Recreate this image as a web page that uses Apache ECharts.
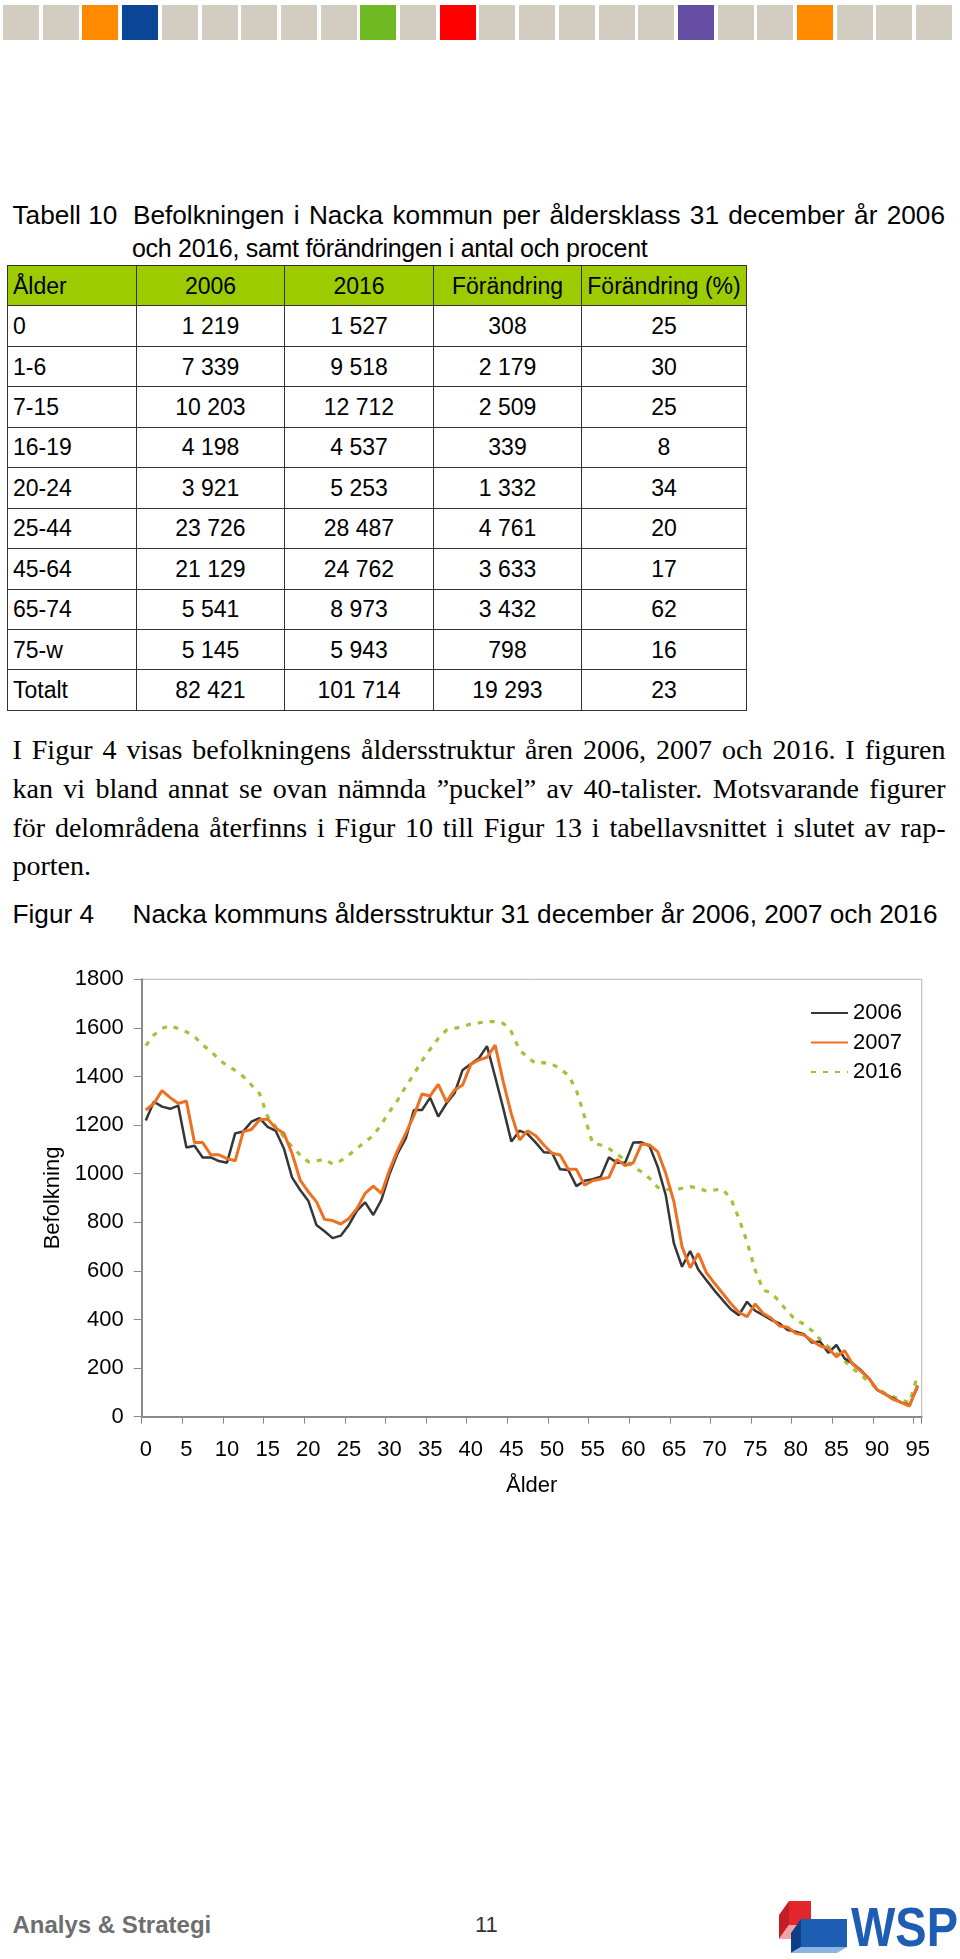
<!DOCTYPE html>
<html>
<head>
<meta charset="utf-8">
<script src="https://cdn.jsdelivr.net/npm/echarts@6/dist/echarts.min.js"></script>
<style>
  html, body { margin:0; padding:0; background:#fff; }
  body { width:960px; height:1959px; position:relative; overflow:hidden; font-family:"Liberation Sans", Arial, sans-serif; color:#000; }
  .abs { position:absolute; white-space:nowrap; }
  .sq { position:absolute; top:5px; width:36px; height:35px; }
  .cap { font-size:26.2px; line-height:30px; }
  .just { text-align:justify; text-align-last:justify; }
  table.pop { position:absolute; left:7px; top:265px; border-collapse:collapse; table-layout:fixed; font-size:23px; }
  table.pop td { border:1.5px solid #333; height:40.45px; padding:0; text-align:center; box-sizing:border-box; line-height:38px; }
  table.pop td:first-child { text-align:left; padding-left:5px; }
  table.pop tr.hd td { background:#9bcb00; }
  .par { font-family:"Liberation Serif", "Times New Roman", serif; font-size:28px; line-height:38px; width:933px; left:12.5px; text-align:justify; text-align-last:justify; }
  .par.last { text-align:left; text-align-last:left; }
  #chart { position:absolute; left:0; top:940px; width:960px; height:580px; }
</style>
</head>
<body>
<div id="bar"></div>

<div class="abs cap" style="left:12.5px; top:200px;">Tabell 10</div>
<div class="abs cap just" style="left:133px; width:812px; top:200px;">Befolkningen i Nacka kommun per åldersklass 31 december år 2006</div>
<div class="abs cap" style="left:132px; top:232.5px; font-size:25px; letter-spacing:-0.3px;">och 2016, samt förändringen i antal och procent</div>

<table class="pop" id="tbl"></table>

<div class="abs par" style="top:731px;">I Figur 4 visas befolkningens åldersstruktur åren 2006, 2007 och 2016. I figuren</div>
<div class="abs par" style="top:770px;">kan vi bland annat se ovan nämnda ”puckel” av 40-talister. Motsvarande figurer</div>
<div class="abs par" style="top:808.5px;">för delområdena återfinns i Figur 10 till Figur 13 i tabellavsnittet i slutet av rap-</div>
<div class="abs par last" style="top:847px;">porten.</div>

<div class="abs cap" style="left:12.5px; top:899px;">Figur 4</div>
<div class="abs cap" style="left:132.5px; top:899px;">Nacka kommuns åldersstruktur 31 december år 2006, 2007 och 2016</div>

<div id="chart"></div>

<div class="abs" style="left:12.5px; top:1911px; font-size:24px; line-height:28px; font-weight:bold; color:#6e6e6e;">Analys &amp; Strategi</div>
<div class="abs" style="left:475px; top:1912px; font-size:22px; line-height:26px; color:#333;">11</div>

<svg class="abs" style="left:775px; top:1895px;" width="185" height="60" viewBox="0 0 185 60">
  <polygon points="14,6 36,6 36,30 14,30" fill="#e3262b"/>
  <polygon points="4,20 14,6 14,30 4,44" fill="#c21e24"/>
  <polygon points="4,44 14,30 36,30 26,44" fill="#f3a3a5"/>
  <polygon points="26,24 72,24 72,52 26,52" fill="#1d5db4"/>
  <polygon points="16,38 26,24 26,52 16,58" fill="#0e3f86"/>
  <polygon points="16,58 26,52 72,52 62,58" fill="#8fb3e3"/>
  <text x="76" y="51" font-family="Liberation Sans, Arial" font-weight="bold" font-size="56" fill="#1d5db4" textLength="107" lengthAdjust="spacingAndGlyphs">WSP</text>
</svg>

<script>
// ---- decorative header squares ----
const barColors = ['#d3ccc1','#d3ccc1','#ff8a00','#0a4596','#d3ccc1','#d3ccc1','#d3ccc1','#d3ccc1','#d3ccc1','#6fba22','#d3ccc1','#ff0000',
                   '#d3ccc1','#d3ccc1','#d3ccc1','#d3ccc1','#d3ccc1','#654ea3','#d3ccc1','#d3ccc1','#ff8a00','#d3ccc1','#d3ccc1','#d3ccc1'];
const bar = document.getElementById('bar');
barColors.forEach((c, i) => {
  const d = document.createElement('div');
  d.className = 'sq';
  d.style.left = (3 + i * 39.7) + 'px';
  d.style.background = c;
  bar.appendChild(d);
});

// ---- table data ----
const tableHeader = ['Ålder', '2006', '2016', 'Förändring', 'Förändring (%)'];
const ageClasses  = ['0', '1-6', '7-15', '16-19', '20-24', '25-44', '45-64', '65-74', '75-w', 'Totalt'];
const tab2006     = ['1 219', '7 339', '10 203', '4 198', '3 921', '23 726', '21 129', '5 541', '5 145', '82 421'];
const tab2016     = ['1 527', '9 518', '12 712', '4 537', '5 253', '28 487', '24 762', '8 973', '5 943', '101 714'];
const tabChange   = ['308', '2 179', '2 509', '339', '1 332', '4 761', '3 633', '3 432', '798', '19 293'];
const tabChangePc = ['25', '30', '25', '8', '34', '20', '17', '62', '16', '23'];
const colWidths   = [129, 148, 149, 148, 165];

const tbl = document.getElementById('tbl');
const cg = document.createElement('colgroup');
colWidths.forEach(w => { const c = document.createElement('col'); c.style.width = w + 'px'; cg.appendChild(c); });
tbl.appendChild(cg);
function addRow(cells, cls) {
  const tr = document.createElement('tr');
  if (cls) tr.className = cls;
  cells.forEach(t => { const td = document.createElement('td'); td.textContent = t; tr.appendChild(td); });
  tbl.appendChild(tr);
}
addRow(tableHeader, 'hd');
ageClasses.forEach((a, i) => addRow([a, tab2006[i], tab2016[i], tabChange[i], tabChangePc[i]]));

// ---- chart data ----
const ages = ['0','1','2','3','4','5','6','7','8','9','10','11','12','13','14','15','16','17','18','19',
  '20','21','22','23','24','25','26','27','28','29','30','31','32','33','34','35','36','37','38','39',
  '40','41','42','43','44','45','46','47','48','49','50','51','52','53','54','55','56','57','58','59',
  '60','61','62','63','64','65','66','67','68','69','70','71','72','73','74','75','76','77','78','79',
  '80','81','82','83','84','85','86','87','88','89','90','91','92','93','94','95'];

const pop2006 = [1219, 1296, 1276, 1267, 1280, 1108, 1115, 1067, 1067, 1052,
  1045, 1166, 1174, 1214, 1229, 1193, 1176, 1104, 985, 933,
  889, 789, 763, 735, 745, 789, 848, 882, 830, 892,
  999, 1084, 1145, 1262, 1262, 1313, 1235, 1289, 1331, 1427,
  1451, 1475, 1525, 1399, 1269, 1132, 1177, 1163, 1128, 1088,
  1086, 1018, 1015, 949, 971, 977, 988, 1067, 1045, 1045,
  1128, 1129, 1114, 1029, 912, 713, 617, 682, 606, 562,
  519, 480, 442, 418, 473, 436, 418, 398, 384, 357,
  350, 340, 305, 309, 263, 295, 240, 219, 192, 158,
  110, 93, 75, 58, 48, 123];

const pop2007 = [1262, 1289, 1342, 1313, 1289, 1299, 1128, 1128, 1078, 1078,
  1062, 1053, 1173, 1182, 1221, 1225, 1187, 1166, 1084, 974,
  926, 885, 812, 807, 793, 816, 857, 919, 949, 919,
  1015, 1097, 1166, 1239, 1328, 1320, 1368, 1296, 1344, 1365,
  1450, 1468, 1479, 1529, 1378, 1245, 1139, 1177, 1156, 1118,
  1084, 1077, 1018, 1018, 953, 971, 978, 985, 1059, 1033,
  1045, 1122, 1118, 1091, 1001, 885, 700, 613, 672, 593,
  549, 508, 466, 430, 412, 464, 425, 405, 373, 368,
  343, 336, 313, 291, 281, 247, 272, 216, 188, 158,
  112, 93, 71, 58, 44, 130];

const pop2016 = [1527, 1571, 1598, 1609, 1597, 1584, 1564, 1530, 1505, 1470,
  1445, 1425, 1400, 1365, 1330, 1235, 1193, 1152, 1111, 1077,
  1049, 1053, 1059, 1040, 1053, 1077, 1104, 1132, 1156, 1204,
  1255, 1303, 1358, 1410, 1465, 1512, 1557, 1591, 1598, 1605,
  1616, 1621, 1626, 1626, 1619, 1584, 1509, 1479, 1454, 1457,
  1451, 1431, 1406, 1344, 1235, 1125, 1118, 1104, 1080, 1056,
  1029, 1008, 981, 944, 936, 933, 940, 947, 940, 929,
  933, 936, 898, 816, 720, 604, 521, 510, 473, 432,
  398, 381, 354, 318, 288, 261, 230, 199, 171, 144,
  117, 96, 82, 69, 58, 171];

const yTicks = { min: 0, max: 1800, interval: 200 };
const seriesNames = ['2006', '2007', '2016'];

const chart = echarts.init(document.getElementById('chart'), null, { renderer: 'canvas' });
const FONT = 'Liberation Sans, Arial, sans-serif';
const axisGray = '#8a8a8a';

chart.setOption({
  animation: false,
  textStyle: { fontFamily: FONT },
  grid: { left: 141.7, top: 39.3, width: 780, height: 437.4, show: true, borderColor: '#b4b4b4', borderWidth: 1, backgroundColor: 'transparent' },
  legend: {
    orient: 'vertical', left: 805, top: 57,
    itemWidth: 37, itemHeight: 14, itemGap: 7.5,
    itemStyle: { opacity: 0 },
    textStyle: { fontSize: 22, color: '#000', fontFamily: FONT, lineHeight: 22 },
    data: seriesNames
  },
  xAxis: {
    type: 'category', data: ages, boundaryGap: true,
    name: 'Ålder', nameLocation: 'middle', nameGap: 58,
    nameTextStyle: { fontSize: 22, color: '#000', fontFamily: FONT, lineHeight: 22 },
    axisLine: { lineStyle: { color: axisGray, width: 2 } },
    axisTick: { show: true, interval: 4, length: 7, lineStyle: { color: axisGray, width: 1 } },
    axisLabel: { interval: 4, fontSize: 22, color: '#000', margin: 22, fontFamily: FONT, lineHeight: 22 },
    splitLine: { show: false }
  },
  yAxis: {
    type: 'value', min: yTicks.min, max: yTicks.max, interval: yTicks.interval,
    name: 'Befolkning', nameLocation: 'middle', nameGap: 74, nameRotate: 90,
    nameTextStyle: { fontSize: 22, color: '#000', fontFamily: FONT, lineHeight: 22 },
    axisLine: { show: true, lineStyle: { color: axisGray, width: 2 } },
    axisTick: { show: true, length: 8, lineStyle: { color: axisGray, width: 1 } },
    axisLabel: { fontSize: 22, color: '#000', margin: 18, fontFamily: FONT, formatter: v => String(v) },
    splitLine: { show: false }
  },
  series: [
    { name: seriesNames[0], type: 'line', data: pop2006, symbol: 'none', z: 3,
      lineStyle: { color: '#363636', width: 2.5 }, itemStyle: { color: '#363636' } },
    { name: seriesNames[1], type: 'line', data: pop2007, symbol: 'none', z: 4,
      lineStyle: { color: '#ee7022', width: 3 }, itemStyle: { color: '#ee7022' } },
    { name: seriesNames[2], type: 'line', data: pop2016, symbol: 'none', z: 2,
      lineStyle: { color: '#9fc43a', width: 3.2, type: [5, 7] }, itemStyle: { color: '#9fc43a' } }
  ]
});
</script>
</body>
</html>
